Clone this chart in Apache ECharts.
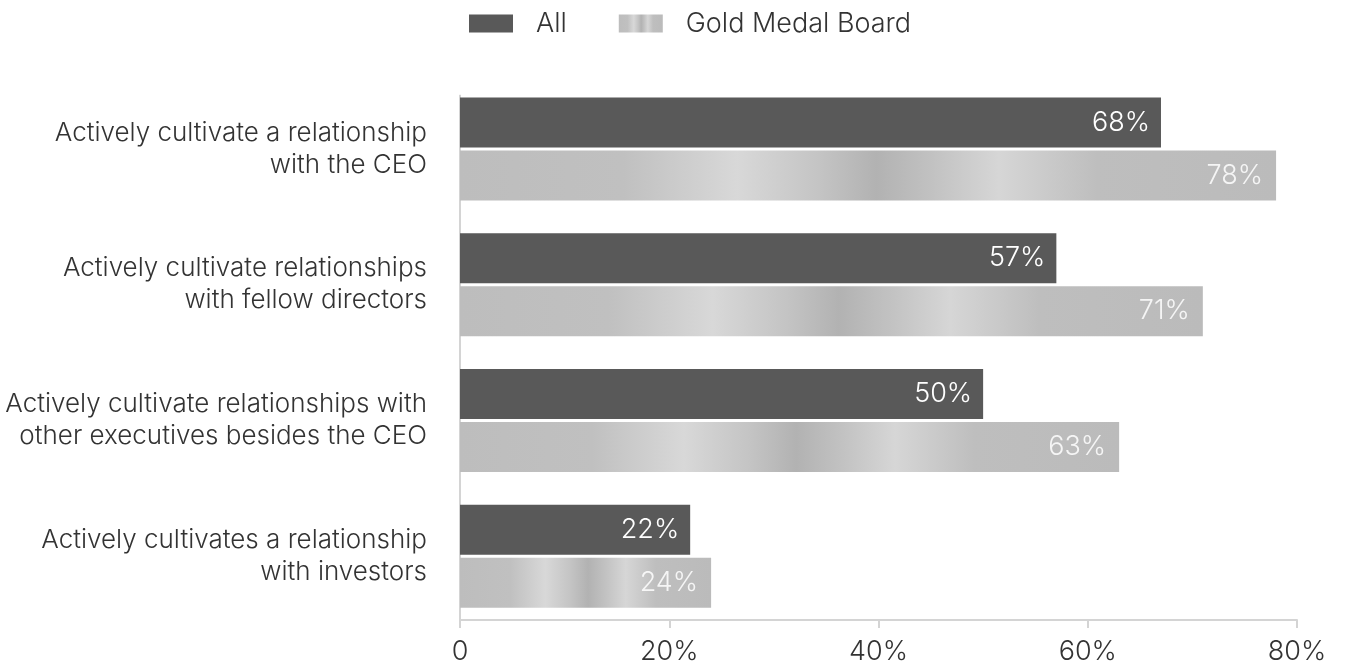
<!DOCTYPE html>
<html>
<head>
<meta charset="utf-8">
<script src="https://cdn.jsdelivr.net/npm/echarts@6/dist/echarts.min.js"></script>
<style>
  html, body { margin: 0; padding: 0; background: #fff; }
  #chart { width: 1345px; height: 667px; }
</style>
</head>
<body>
<div id="chart"></div>
<script>
// Data
const categories = [
    'Actively cultivate a relationship\nwith the CEO',
    'Actively cultivate relationships\nwith fellow directors',
    'Actively cultivate relationships with\nother executives besides the CEO',
    'Actively cultivates a relationship\nwith investors'
];
const allValues = [67, 57, 50, 22];
const allLabels = ['68%', '57%', '50%', '22%'];
const goldValues = [78, 71, 63, 24];
const goldLabels = ['78%', '71%', '63%', '24%'];
const xTicks = [0, 20, 40, 60, 80];

const chart = echarts.init(document.getElementById('chart'));

// silver sheen for the Gold Medal Board bars
const silver = new echarts.graphic.LinearGradient(0, 0, 1, 0, [
    { offset: 0, color: '#bdbdbd' },
    { offset: 0.2, color: '#c0c0c0' },
    { offset: 0.34, color: '#d8d8d8' },
    { offset: 0.44, color: '#c4c4c4' },
    { offset: 0.51, color: '#b2b2b2' },
    { offset: 0.58, color: '#c2c2c2' },
    { offset: 0.66, color: '#d6d6d6' },
    { offset: 0.78, color: '#bebebe' },
    { offset: 1, color: '#bbbbbb' }
]);

// y axis line only shows from the first bar down
const axisFade = new echarts.graphic.LinearGradient(0, 0, 0, 1, [
    { offset: 0, color: 'rgba(212,212,212,0)' },
    { offset: 0.029, color: 'rgba(212,212,212,0)' },
    { offset: 0.03, color: '#d4d4d4' },
    { offset: 1, color: '#d4d4d4' }
]);

const option = {
    animation: false,
    textStyle: { fontFamily: 'Inter', fontWeight: 300 },
    legend: {
        left: 464,
        top: 5,
        itemWidth: 44,
        itemHeight: 18,
        itemGap: 52,
        icon: 'rect',
        textStyle: { fontSize: 27, fontWeight: 300, color: '#333', padding: [0, 0, 0, 18] },
        data: ['All', 'Gold Medal Board']
    },
    grid: {
        left: 460,
        right: 48,
        top: 81,
        bottom: 43
    },
    xAxis: {
        type: 'value',
        min: 0,
        max: 80,
        interval: 20,
        offset: -4,
        axisLine: { show: true, lineStyle: { color: '#d4d4d4', width: 2 } },
        axisTick: { show: true, length: 8, lineStyle: { color: '#d4d4d4', width: 2 } },
        splitLine: { show: false },
        axisLabel: {
            fontSize: 27,
            fontWeight: 300,
            color: '#333',
            margin: 18,
            formatter: v => (xTicks.indexOf(v) > 0 ? v + '%' : String(v))
        }
    },
    yAxis: {
        type: 'category',
        inverse: true,
        data: categories,
        axisLine: { show: true, lineStyle: { color: axisFade, width: 2 } },
        axisTick: { show: false },
        axisLabel: {
            fontSize: 26,
            fontWeight: 300,
            lineHeight: 32,
            color: '#333',
            margin: 33,
            align: 'right',
            padding: [0, 0, 3, 0]
        }
    },
    series: [
        {
            name: 'All',
            type: 'bar',
            data: allValues,
            barWidth: 50,
            barGap: '6%',
            itemStyle: { color: '#595959' },
            label: {
                show: true,
                position: 'insideRight',
                distance: 11,
                fontSize: 27,
                fontWeight: 300,
                color: '#fff',
                formatter: p => allLabels[p.dataIndex]
            }
        },
        {
            name: 'Gold Medal Board',
            type: 'bar',
            data: goldValues,
            barWidth: 50,
            itemStyle: { color: silver },
            label: {
                show: true,
                position: 'insideRight',
                distance: 13,
                fontSize: 27,
                fontWeight: 300,
                color: 'rgba(255,255,255,0.85)',
                formatter: p => goldLabels[p.dataIndex]
            }
        }
    ]
};

chart.setOption(option);
</script>
</body>
</html>
